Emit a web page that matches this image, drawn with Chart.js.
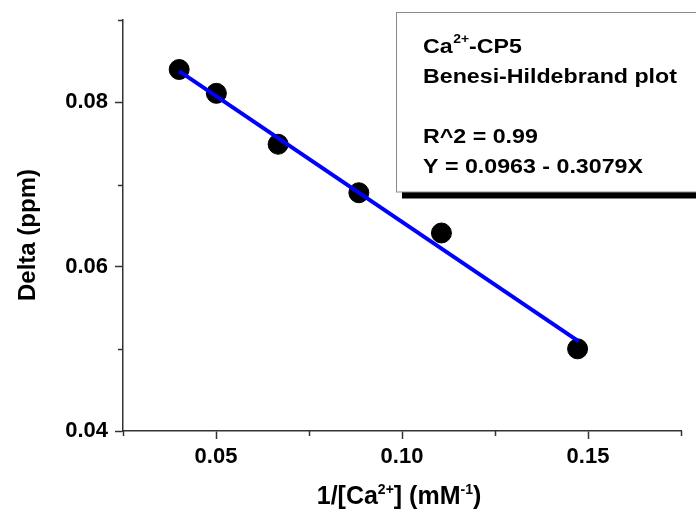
<!DOCTYPE html>
<html><head><meta charset="utf-8">
<script src="https://cdn.jsdelivr.net/npm/chart.js@4.4.1/dist/chart.umd.min.js"></script>
<style>html,body{margin:0;padding:0;background:#fff}canvas{display:block}</style>
</head><body>
<canvas id="c" width="696" height="516"></canvas>
<script>
// ---- data ----
const xValues = [0.0401, 0.0501, 0.0667, 0.0884, 0.1106, 0.1472];   // 1/[Ca2+] (mM^-1)
const yValues = [0.0840, 0.0811, 0.0749, 0.0690, 0.0641, 0.0500];   // Delta (ppm)
const fitX = [0.0401, 0.1475];
const fitY = [0.0838, 0.0509];
const xTickValues = [0.025, 0.05, 0.075, 0.10, 0.125, 0.15, 0.175];
const xTickLabels = ['', '0.05', '', '0.10', '', '0.15', ''];
const yTickValues = [0.04, 0.05, 0.06, 0.07, 0.08, 0.09];
const yTickLabels = ['0.04', '', '0.06', '', '0.08', ''];
const yTitle = 'Delta (ppm)';
const legendTitle = ['Ca', '2+', '-CP5'];
const legendLines = ['Benesi-Hildebrand plot', '', 'R^2 = 0.99', 'Y = 0.0963 - 0.3079X'];

const FONT = '"Liberation Sans", Arial, sans-serif';
const AXIS = '#333';

const overlay = {
  id: 'overlay',
  afterDraw(chart) {
    const ctx = chart.ctx, xs = chart.scales.x, ys = chart.scales.y;
    const ca = chart.chartArea;
    ctx.save();
    // minor ticks
    ctx.strokeStyle = AXIS; ctx.lineWidth = 1.5;
    xTickValues.forEach((v, i) => {
      if (xTickLabels[i]) return;
      const px = Math.round(xs.getPixelForValue(v)) + 0.5;
      ctx.beginPath(); ctx.moveTo(px, ca.bottom); ctx.lineTo(px, ca.bottom + 5); ctx.stroke();
    });
    yTickValues.forEach((v, i) => {
      if (yTickLabels[i]) return;
      const py = Math.round(ys.getPixelForValue(v)) + 0.5;
      ctx.beginPath(); ctx.moveTo(ca.left, py); ctx.lineTo(ca.left - 5, py); ctx.stroke();
    });
    // y title
    ctx.fillStyle = '#000';
    ctx.save();
    ctx.translate(28, 235);
    ctx.rotate(-Math.PI / 2);
    ctx.font = 'bold 24px ' + FONT;
    ctx.textAlign = 'center'; ctx.textBaseline = 'middle';
    ctx.fillText(yTitle, 0, 0);
    ctx.restore();
    // x title with superscripts
    const parts = [['1/[Ca', 0], ['2+', 1], ['] (mM', 0], ['-1', 1], [')', 0]];
    let total = 0;
    parts.forEach(p => { ctx.font = 'bold ' + (p[1] ? 14 : 25) + 'px ' + FONT; total += ctx.measureText(p[0]).width; });
    let x0 = 399 - total / 2;
    ctx.textAlign = 'left'; ctx.textBaseline = 'alphabetic';
    parts.forEach(p => {
      ctx.font = 'bold ' + (p[1] ? 14 : 25) + 'px ' + FONT;
      ctx.fillText(p[0], x0, p[1] ? 494 : 504);
      x0 += ctx.measureText(p[0]).width;
    });
    // legend box with shadow
    ctx.fillStyle = '#000';
    ctx.fillRect(402, 18, 320, 180.5);
    ctx.fillStyle = '#fff';
    ctx.fillRect(396.5, 12.5, 320, 179.5);
    ctx.strokeStyle = '#8a8a8a'; ctx.lineWidth = 1;
    ctx.strokeRect(396.5, 12.5, 320, 179.5);
    // legend text (slightly wide face)
    ctx.fillStyle = '#000';
    const sx = 1.16;
    ctx.save();
    ctx.translate(423, 0);
    ctx.scale(sx, 1);
    let lx = 0;
    ctx.font = 'bold 20px ' + FONT; ctx.fillText(legendTitle[0], lx, 53); lx += ctx.measureText(legendTitle[0]).width + 0.5;
    ctx.font = 'bold 12px ' + FONT; ctx.fillText(legendTitle[1], lx, 43); lx += ctx.measureText(legendTitle[1]).width;
    ctx.font = 'bold 20px ' + FONT; ctx.fillText(legendTitle[2], lx, 53);
    const ys0 = [83, 113, 142.5, 172.5];
    legendLines.forEach((t, i) => { if (t) ctx.fillText(t, 0, ys0[i]); });
    ctx.restore();
    ctx.restore();
  }
};

new Chart(document.getElementById('c'), {
  type: 'scatter',
  data: {
    datasets: [
      {
        type: 'line',
        data: fitX.map((x, i) => ({ x, y: fitY[i] })),
        borderColor: '#0000ff',
        borderWidth: 4,
        pointRadius: 0,
        fill: false,
        tension: 0
      },
      {
        type: 'scatter',
        data: xValues.map((x, i) => ({ x, y: yValues[i] })),
        backgroundColor: '#000',
        borderColor: '#000',
        pointRadius: 10,
        pointHoverRadius: 10
      }
    ]
  },
  options: {
    responsive: false,
    animation: false,
    events: [],
    layout: { padding: { left: 0, top: 20, right: 15, bottom: 0 } },
    plugins: { legend: { display: false }, tooltip: { enabled: false } },
    scales: {
      x: {
        type: 'linear', min: 0.025, max: 0.175,
        afterBuildTicks: s => { s.ticks = xTickValues.map(v => ({ value: v })); },
        afterFit: s => { s.height = 85; },
        ticks: {
          autoSkip: false, maxRotation: 0,
          callback: (v, i) => xTickLabels[i],
          color: '#000', padding: 5,
          font: { family: FONT, size: 22, weight: 'bold' }
        },
        grid: {
          display: true, drawOnChartArea: false, drawTicks: true, tickLength: 8,
          tickWidth: 1.5,
          tickColor: c => (xTickLabels[c.index] ? AXIS : 'rgba(0,0,0,0)')
        },
        border: { display: true, color: AXIS, width: 1.5 }
      },
      y: {
        type: 'linear', min: 0.04, max: 0.09,
        afterBuildTicks: s => { s.ticks = yTickValues.map(v => ({ value: v })); },
        afterFit: s => { s.width = 123; },
        ticks: {
          autoSkip: false,
          callback: (v, i) => yTickLabels[i],
          color: '#000', padding: 7,
          font: { family: FONT, size: 22, weight: 'bold' }
        },
        grid: {
          display: true, drawOnChartArea: false, drawTicks: true, tickLength: 8,
          tickWidth: 1.5,
          tickColor: c => (yTickLabels[c.index] ? AXIS : 'rgba(0,0,0,0)')
        },
        border: { display: true, color: AXIS, width: 1.5 }
      }
    }
  },
  plugins: [overlay]
});
</script>
</body></html>
